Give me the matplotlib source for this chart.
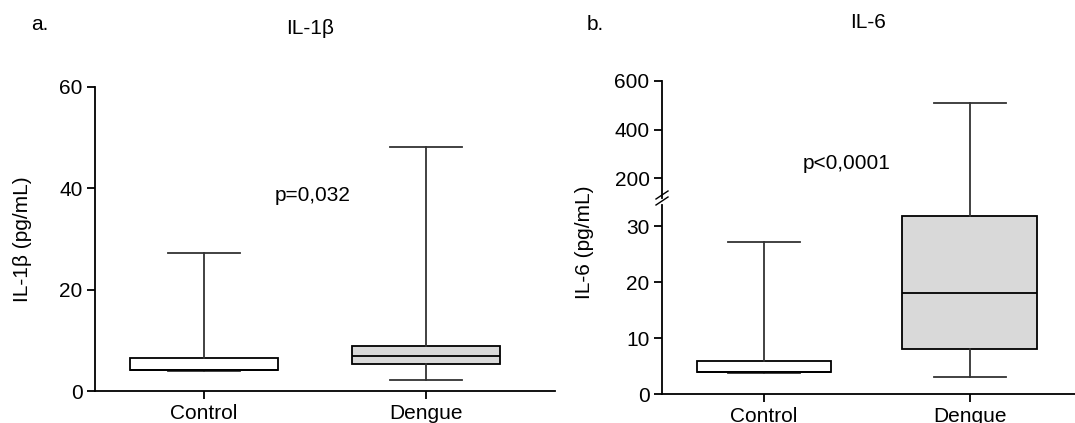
import matplotlib
matplotlib.use("Agg")
import matplotlib.pyplot as plt

plt.rcParams['font.family'] = ['Liberation Sans', 'DejaVu Sans']

groups = ["Control", "Dengue"]
# IL-1beta stats: whislo, q1, med, q3, whishi
il1b_whislo = [4.0, 2.2]
il1b_q1 = [4.1, 5.3]
il1b_med = [4.1, 6.9]
il1b_q3 = [6.5, 8.9]
il1b_whishi = [27.2, 48.1]
# IL-6 stats
il6_whislo = [3.7, 3.0]
il6_q1 = [3.9, 8.0]
il6_med = [3.9, 18.0]
il6_q3 = [5.9, 31.8]
il6_whishi = [27.1, 509.0]
box_colors = ["white", "#d9d9d9"]

W, H = 1075, 423
fig = plt.figure(figsize=(W / 100, H / 100), dpi=100)


def fx(px):
    return px / W


def fy(py):
    return 1 - py / H


def make_stats(lo, q1, med, q3, hi):
    return [dict(whislo=a, q1=b, med=c, q3=d, whishi=e, fliers=[], label=g)
            for a, b, c, d, e, g in zip(lo, q1, med, q3, hi, groups)]


def draw_box(ax, stats, width, capw):
    bp = ax.bxp(stats, positions=[1, 2], widths=width, patch_artist=True,
                showfliers=False, capwidths=capw,
                boxprops=dict(edgecolor='black', linewidth=1.3),
                medianprops=dict(color='black', linewidth=1.3),
                whiskerprops=dict(color='#333333', linewidth=1.3),
                capprops=dict(color='#333333', linewidth=1.3))
    for p, c in zip(bp['boxes'], box_colors):
        p.set_facecolor(c)
    return bp


def style(ax):
    for s in ['top', 'right']:
        ax.spines[s].set_visible(False)
    for s in ['left', 'bottom']:
        ax.spines[s].set_linewidth(1.3)
    ax.tick_params(axis='both', labelsize=15, length=6, width=1.3, direction='out', pad=3)


FS = 15

# Panel a
axa = fig.add_axes([fx(95), fy(391), fx(555 - 95), fy(87) - fy(391)])
draw_box(axa, make_stats(il1b_whislo, il1b_q1, il1b_med, il1b_q3, il1b_whishi), 0.67, 0.32)
axa.set_xlim(0.509, 2.581)
axa.set_ylim(0, 60)
axa.set_yticks([0, 20, 40, 60])
style(axa)
axa.set_xticks([1, 2])
axa.set_xticklabels(groups)
axa.text(1.49, 38.5, "p=0,032", fontsize=FS, ha='center', va='center')

# Panel b (broken axis)
x0b = 662
axl = fig.add_axes([fx(x0b), fy(394), fx(W - x0b), fy(198) - fy(394)])
axu = fig.add_axes([fx(x0b), fy(198), fx(W - x0b), fy(81) - fy(198)])
st6 = make_stats(il6_whislo, il6_q1, il6_med, il6_q3, il6_whishi)
draw_box(axl, st6, 0.655, 0.35)
draw_box(axu, st6, 0.655, 0.35)
for ax in (axl, axu):
    ax.set_xlim(0.505, 2.51)
    style(ax)
axl.set_ylim(0, 35)
axl.set_yticks([0, 10, 20, 30])
axl.set_xticks([1, 2])
axl.set_xticklabels(groups)
axu.set_ylim(118, 600)
axu.set_yticks([200, 400, 600])
axu.spines['bottom'].set_visible(False)
axu.set_xticks([])
axu.patch.set_alpha(0)
axl.patch.set_alpha(0)
axl.spines['left'].set_bounds(0, 33.8)
axu.text(1.4, 262, "p<0,0001", fontsize=FS, ha='center', va='center')

# break marks
for dy in (-3, 3):
    fig.add_artist(plt.Line2D([fx(x0b - 6), fx(x0b + 6)],
                              [fy(198 + dy + 4), fy(198 + dy - 4)],
                              color='black', linewidth=1.0))

# Labels and titles
fig.text(fx(23), fy(239), "IL-1β (pg/mL)", rotation=90, ha='center', va='center', fontsize=FS)
fig.text(fx(585), fy(242), "IL-6 (pg/mL)", rotation=90, ha='center', va='center', fontsize=FS)
fig.text(fx(40), fy(25), "a.", ha='center', va='center', fontsize=FS)
fig.text(fx(310), fy(28), "IL-1β", ha='center', va='center', fontsize=FS)
fig.text(fx(595), fy(25), "b.", ha='center', va='center', fontsize=FS)
fig.text(fx(868), fy(22), "IL-6", ha='center', va='center', fontsize=FS)

fig.savefig("out.png", dpi=100)
